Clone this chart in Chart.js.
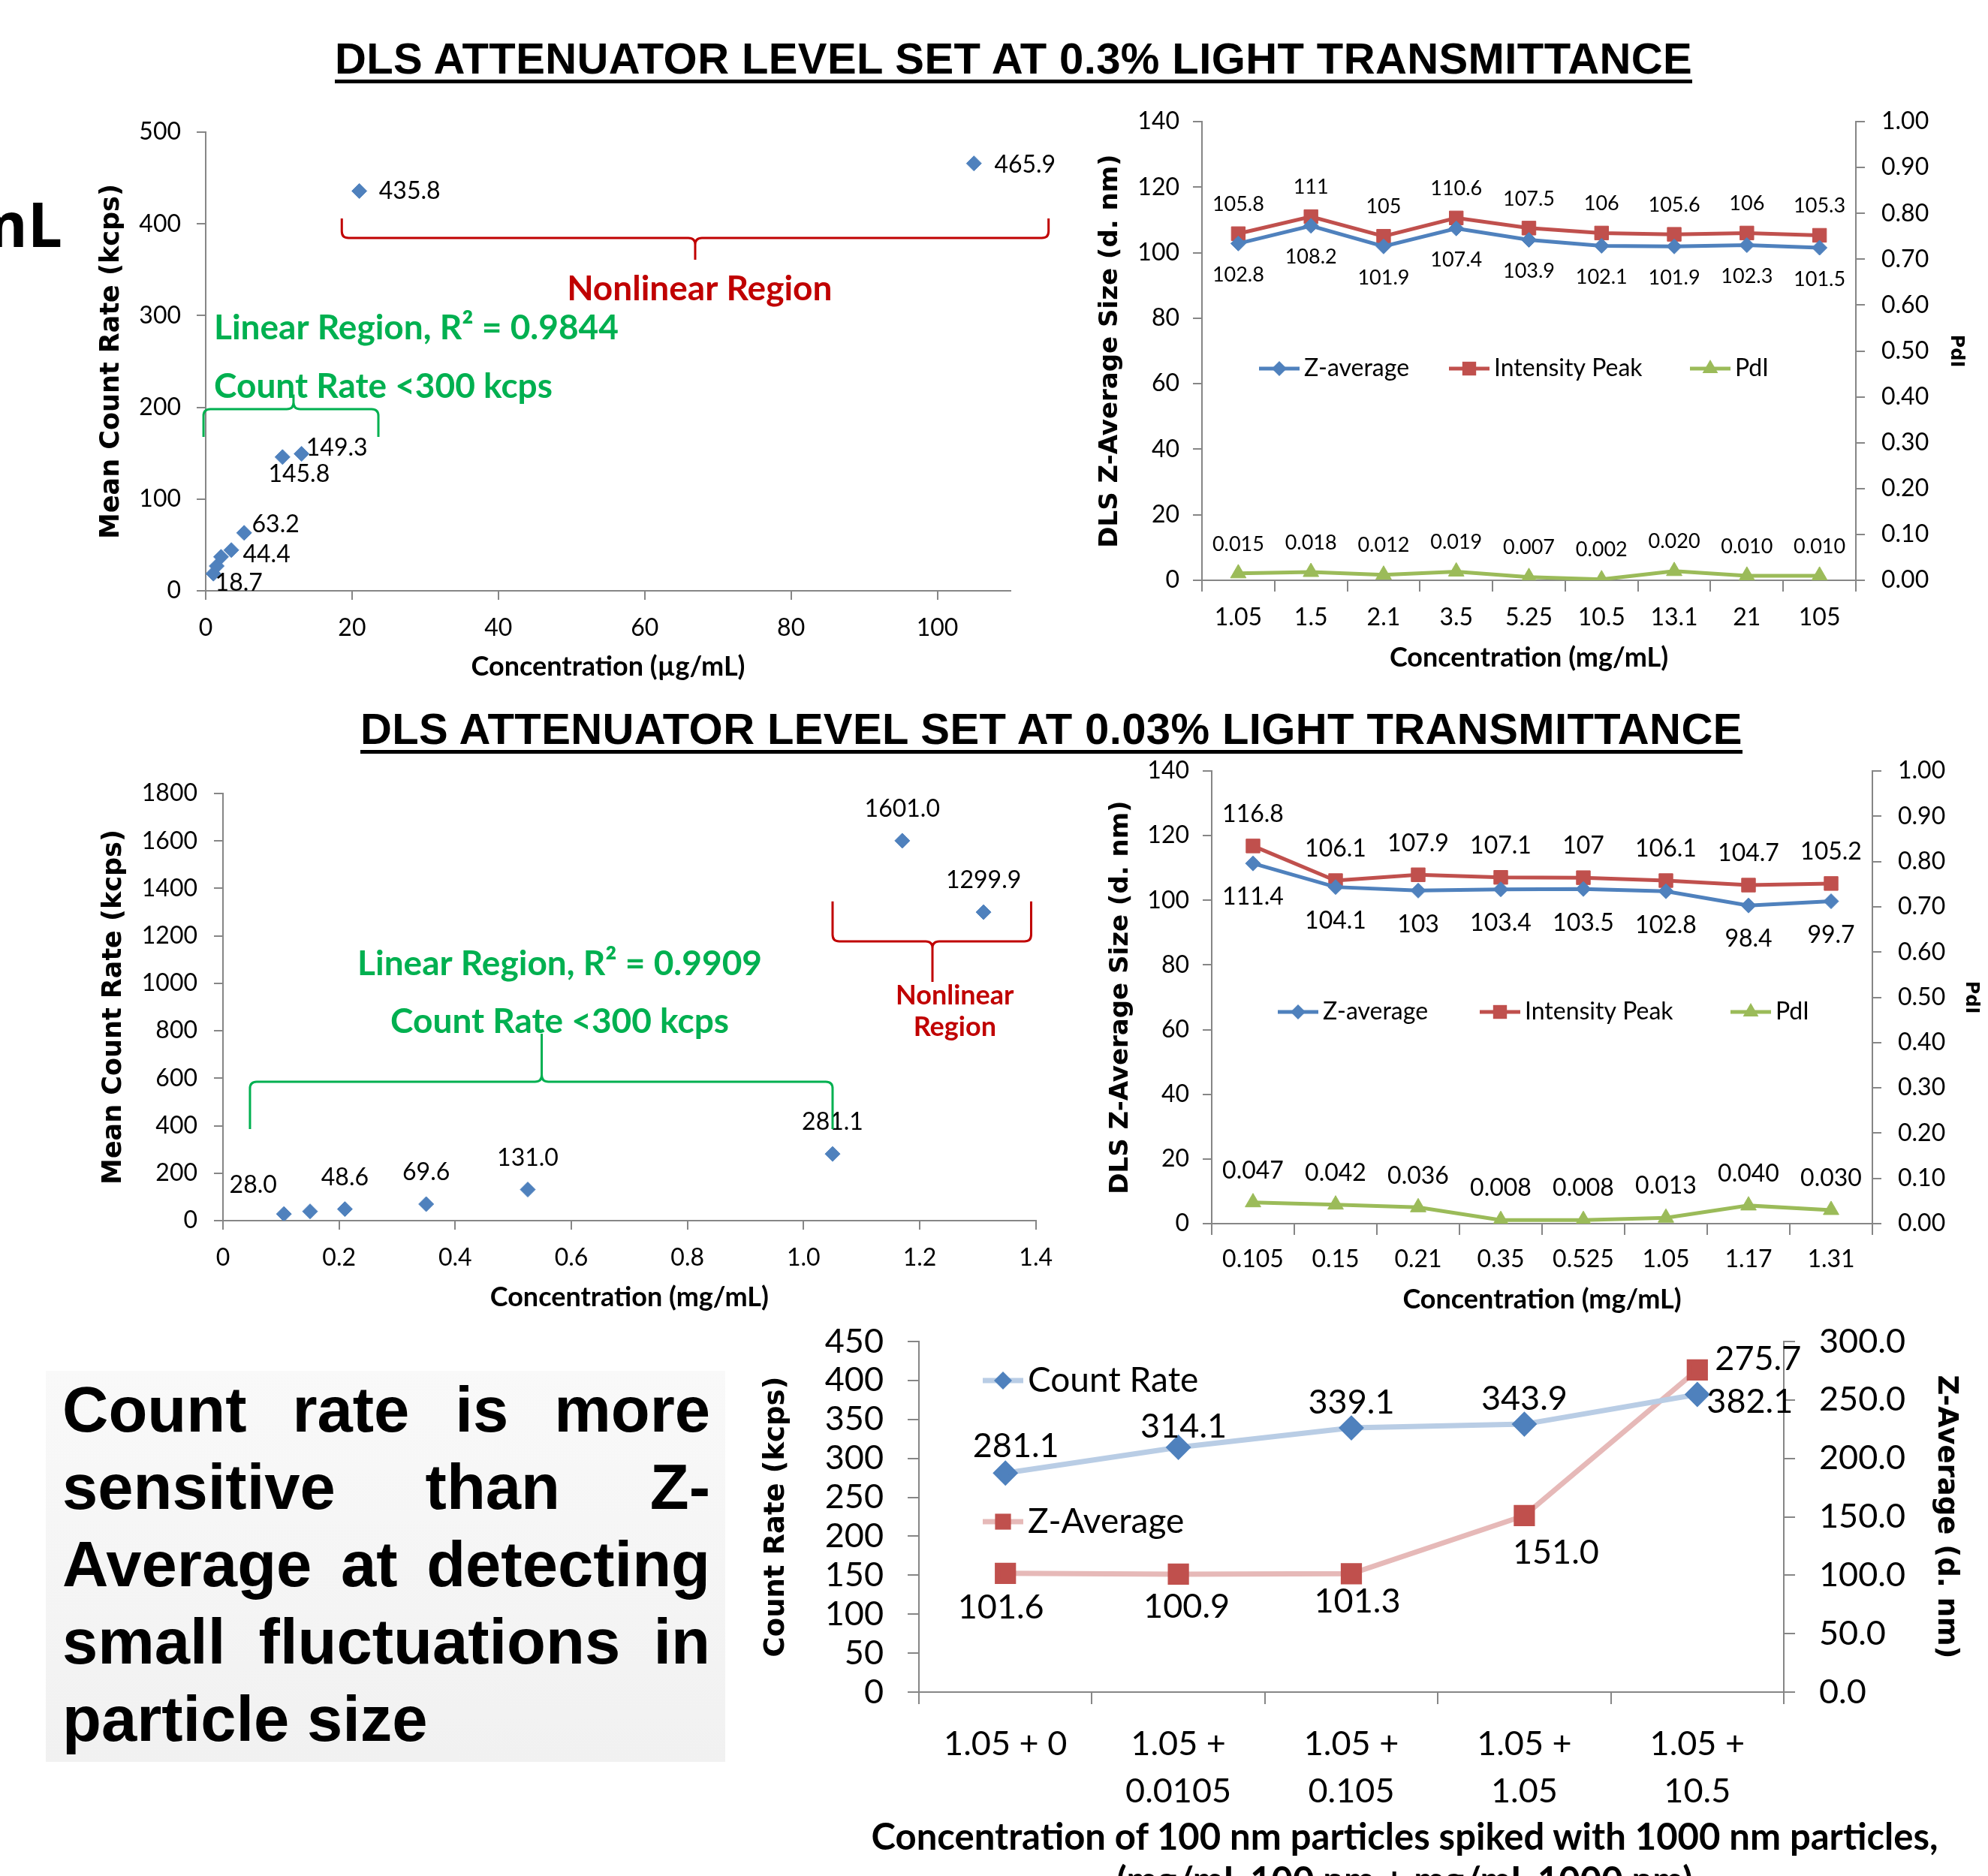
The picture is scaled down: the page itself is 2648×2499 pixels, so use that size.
<!DOCTYPE html>
<html lang="en">
<head>
<meta charset="utf-8">
<title>DLS attenuator level and count rate</title>
<script src="https://cdn.jsdelivr.net/npm/chart.js@4.4.1/dist/chart.umd.min.js"></script>
<style>
  html, body { margin: 0; padding: 0; background: #fff; }
  body { position: relative; width: 2648px; height: 2499px; overflow: hidden; color: #000; }
  canvas { position: absolute; }
  .head { position: absolute; font: bold 58px 'Liberation Sans', Arial, sans-serif; letter-spacing: 0.4px; line-height: 57px; white-space: nowrap; border-bottom: 5px solid #000; }
  #cut { position: absolute; left: -300px; top: 256px; width: 383px; text-align: right; font: bold 82px 'Open Sans', sans-serif; line-height: 82px; white-space: nowrap; }
  #note { position: absolute; left: 61px; top: 1826px; width: 905px; height: 521px; box-sizing: border-box; padding: 0 20px 0 22px;
          background: linear-gradient(#f9f9f9, #f1f1f1); font: bold 85px 'Liberation Sans', Arial, sans-serif; line-height: 103px; }
  #note div { text-align: justify; text-align-last: justify; }
  #note div.last { text-align-last: left; }
  #spikeTitle { position: absolute; left: 871px; top: 2416px; width: 2000px; text-align: center; font: bold 49px Lato, sans-serif; line-height: 58px; white-space: nowrap; }
</style>
</head>
<body>
<div class="head" style="left:446px;top:49px">DLS ATTENUATOR LEVEL SET AT 0.3% LIGHT TRANSMITTANCE</div>
<div class="head" style="left:480px;top:942px">DLS ATTENUATOR LEVEL SET AT 0.03% LIGHT TRANSMITTANCE</div>
<div id="cut">mL</div>

<canvas id="countTop" width="1302" height="770" style="left:128px;top:140px"></canvas>
<canvas id="sizeTop" width="1161" height="768" style="left:1459px;top:130px"></canvas>
<canvas id="countMid" width="1289" height="735" style="left:131px;top:1015px"></canvas>
<canvas id="sizeMid" width="1167" height="753" style="left:1473px;top:1000px"></canvas>
<canvas id="spike" width="1602" height="749" style="left:1012px;top:1750px"></canvas>

<div id="note">
  <div>Count rate is more</div>
  <div>sensitive than Z-</div>
  <div>Average at detecting</div>
  <div>small fluctuations in</div>
  <div class="last">particle size</div>
</div>
<div id="spikeTitle">Concentration of 100 nm particles spiked with 1000 nm particles,<br>(mg/mL 100 nm + mg/mL 1000 nm)</div>

<script>
// attenuator at 0.3% transmittance
const concTop = [1.05, 1.5, 2.1, 3.5, 5.25, 10.5, 13.1, 21, 105];
const countTop = [18.7, 27, 37, 44.4, 63.2, 145.8, 149.3, 435.8, 465.9];
const zAvgTop = [102.8, 108.2, 101.9, 107.4, 103.9, 102.1, 101.9, 102.3, 101.5];
const peakTop = [105.8, 111, 105, 110.6, 107.5, 106, 105.6, 106, 105.3];
const pdiTop = [0.015, 0.018, 0.012, 0.019, 0.007, 0.002, 0.020, 0.010, 0.010];

// attenuator at 0.03% transmittance
const concMid = [0.105, 0.15, 0.21, 0.35, 0.525, 1.05, 1.17, 1.31];
const countMid = [28.0, 39, 48.6, 69.6, 131.0, 281.1, 1601.0, 1299.9];
const zAvgMid = [111.4, 104.1, 103, 103.4, 103.5, 102.8, 98.4, 99.7];
const peakMid = [116.8, 106.1, 107.9, 107.1, 107, 106.1, 104.7, 105.2];
const pdiMid = [0.047, 0.042, 0.036, 0.008, 0.008, 0.013, 0.040, 0.030];

// 100 nm particles spiked with 1000 nm particles
const spikeLabels = ['1.05 + 0', ['1.05 +', '0.0105'], ['1.05 +', '0.105'], ['1.05 +', '1.05'], ['1.05 +', '10.5']];
const spikeCount = [281.1, 314.1, 339.1, 343.9, 382.1];
const spikeZAvg = [101.6, 100.9, 101.3, 151.0, 275.7];

const BLUE = '#4F81BD', RED = '#C0504D', OLIVE = '#9BBB59';
const NOTE_RED = '#C00000', NOTE_GREEN = '#00B050';
const AXIS = '#868686';

Chart.defaults.font.family = 'Lato';
Chart.defaults.color = '#000';

const grid = (tickLength, offset = false) => ({ drawOnChartArea: false, color: AXIS, lineWidth: 2, tickLength, offset });
const border = { color: AXIS, width: 2 };
const yTitle = (text, size) => ({ display: true, text, padding: 0, font: { family: 'DejaVu Sans', weight: 'bold', size } });
const xTitle = text => ({ display: true, text, padding: 0, font: { family: 'Lato', weight: 'bold', size: 36 } });
// fixed axis width; the top label must not push the plot area down
const fixWidth = w => s => { s.width = w; s.paddingTop = 0; s.paddingBottom = 0; };

function marker(ctx, style, r, x, y) {
  ctx.beginPath();
  if (style === 'rectRot') {
    ctx.moveTo(x, y - r); ctx.lineTo(x + r, y); ctx.lineTo(x, y + r); ctx.lineTo(x - r, y);
  } else if (style === 'rect') {
    const s = r * Math.SQRT1_2;
    ctx.rect(x - s, y - s, 2 * s, 2 * s);
  } else {
    ctx.moveTo(x, y - r); ctx.lineTo(x + r * 0.866, y + r / 2); ctx.lineTo(x - r * 0.866, y + r / 2);
  }
  ctx.closePath();
  ctx.fill();
}

// value labels next to the points
const pointLabels = {
  id: 'pointLabels',
  afterDatasetsDraw(chart) {
    const ctx = chart.ctx;
    chart.data.datasets.forEach((ds, i) => {
      const lab = ds.pointLabels;
      if (!lab) return;
      chart.getDatasetMeta(i).data.forEach((el, j) => {
        if (lab.skip && lab.skip.includes(j)) return;
        const raw = ds.data[j];
        const v = typeof raw === 'object' ? raw.y : raw;
        const [dx, dy] = (lab.at && lab.at[j]) || lab.offset;
        ctx.save();
        ctx.font = lab.font;
        ctx.fillStyle = '#000';
        ctx.textAlign = 'center';
        ctx.textBaseline = 'middle';
        ctx.fillText(lab.format(v), el.x + dx, el.y + dy);
        ctx.restore();
      });
    });
  }
};

// curly brackets and region notes, placed in data units
function notes(braces, texts) {
  return {
    id: 'notes',
    afterDatasetsDraw(chart) {
      const { ctx, scales: { x, y } } = chart;
      braces.forEach(b => {
        const x1 = x.getPixelForValue(b.x1), x2 = x.getPixelForValue(b.x2), xm = x.getPixelForValue(b.xm);
        const ye = y.getPixelForValue(b.yEnd), yl = y.getPixelForValue(b.yLine), yt = y.getPixelForValue(b.yTip);
        const r = 9, se = Math.sign(ye - yl), st = Math.sign(yt - yl);
        ctx.save();
        ctx.strokeStyle = b.color;
        ctx.lineWidth = 3;
        ctx.beginPath();
        ctx.moveTo(x1, ye);
        ctx.lineTo(x1, yl + se * r);
        ctx.quadraticCurveTo(x1, yl, x1 + r, yl);
        ctx.lineTo(xm - r, yl);
        ctx.quadraticCurveTo(xm, yl, xm, yl + st * r);
        ctx.lineTo(xm, yt);
        ctx.moveTo(xm, yl + st * r);
        ctx.quadraticCurveTo(xm, yl, xm + r, yl);
        ctx.lineTo(x2 - r, yl);
        ctx.quadraticCurveTo(x2, yl, x2, yl + se * r);
        ctx.lineTo(x2, ye);
        ctx.stroke();
        ctx.restore();
      });
      texts.forEach(t => {
        ctx.save();
        ctx.font = `bold ${t.size}px Lato`;
        ctx.fillStyle = t.color;
        ctx.textAlign = t.align || 'center';
        ctx.textBaseline = 'middle';
        ctx.fillText(t.text, x.getPixelForValue(t.x), y.getPixelForValue(t.y));
        ctx.restore();
      });
    }
  };
}

// legend drawn inside the plot, offsets from the chart area corner
function legendAt(items, font, lineLength) {
  return {
    id: 'legendAt',
    afterDraw(chart) {
      const { ctx, chartArea } = chart;
      items.forEach((it, i) => {
        const ds = chart.data.datasets[i];
        const x0 = chartArea.left + it.dx, y0 = chartArea.top + it.dy;
        ctx.save();
        ctx.strokeStyle = ds.borderColor;
        ctx.lineWidth = ds.borderWidth;
        ctx.beginPath();
        ctx.moveTo(x0, y0);
        ctx.lineTo(x0 + lineLength, y0);
        ctx.stroke();
        ctx.fillStyle = ds.pointBackgroundColor;
        marker(ctx, ds.pointStyle, ds.pointRadius, x0 + lineLength / 2, y0);
        ctx.font = font;
        ctx.fillStyle = '#000';
        ctx.textAlign = 'left';
        ctx.textBaseline = 'middle';
        ctx.fillText(ds.label, x0 + lineLength + 6, y0);
        ctx.restore();
      });
    }
  };
}

function countChart(id, xs, ys, o) {
  return new Chart(document.getElementById(id), {
    type: 'scatter',
    data: {
      datasets: [{
        data: xs.map((x, i) => ({ x, y: ys[i] })),
        pointStyle: 'rectRot', pointRadius: 10, pointHoverRadius: 10,
        backgroundColor: BLUE, borderColor: BLUE,
        pointLabels: o.labels
      }]
    },
    options: {
      responsive: false, animation: false, events: [],
      layout: { padding: { top: o.padTop, right: o.padRight } },
      plugins: { legend: { display: false }, tooltip: { enabled: false } },
      scales: {
        x: {
          type: 'linear', min: o.x[0], max: o.x[1],
          ticks: { stepSize: o.x[2], includeBounds: false, autoSkip: false, padding: 18, font: { size: 32 } },
          grid: grid(12), border, title: xTitle(o.xTitle),
          afterFit: s => { s.height = o.xH; }
        },
        y: {
          min: 0, max: o.y[0],
          ticks: { stepSize: o.y[1], autoSkip: false, padding: o.yPad, font: { size: 32 }, callback: v => String(v) },
          grid: grid(12), border, title: yTitle('Mean Count Rate (kcps)', 35),
          afterFit: fixWidth(o.yW)
        }
      }
    },
    plugins: [pointLabels, notes(o.braces, o.texts)]
  });
}

function sizeChart(id, cats, z, peak, pdi, o) {
  const line = (label, data, color, style, radius, axis, lab) => ({
    label, data, yAxisID: axis, borderColor: color, backgroundColor: color, borderWidth: 5,
    pointStyle: style, pointRadius: radius, pointHoverRadius: radius,
    pointBackgroundColor: color, pointBorderColor: color, pointBorderWidth: 1, tension: 0,
    pointLabels: lab
  });
  return new Chart(document.getElementById(id), {
    type: 'line',
    data: {
      labels: cats.map(String),
      datasets: [
        line('Z-average', z, BLUE, 'rectRot', 10, 'y', { font: o.labelFont, format: String, offset: [0, o.below] }),
        line('Intensity Peak', peak, RED, 'rect', 13, 'y', { font: o.labelFont, format: String, offset: [0, -o.above] }),
        line('PdI', pdi, OLIVE, 'triangle', 12, 'y1', { font: o.labelFont, format: v => v.toFixed(3), offset: [0, -o.above] })
      ]
    },
    options: {
      responsive: false, animation: false, events: [],
      layout: { padding: { top: o.padTop } },
      plugins: { legend: { display: false }, tooltip: { enabled: false } },
      scales: {
        x: {
          type: 'category', offset: true,
          ticks: { padding: o.xPad, autoSkip: false, font: { size: 32 } },
          grid: grid(15, true), border, title: xTitle('Concentration (mg/mL)'),
          afterFit: s => { s.height = o.xH; }
        },
        y: {
          min: 0, max: 140,
          ticks: { stepSize: 20, autoSkip: false, padding: 18, font: { size: 32 } },
          grid: grid(12), border, title: yTitle('DLS Z-Average Size (d. nm)', 34),
          afterFit: fixWidth(o.yW)
        },
        y1: {
          position: 'right', min: 0, max: 1,
          ticks: { stepSize: 0.1, autoSkip: false, padding: 22, font: { size: 32 }, callback: v => v.toFixed(2) },
          grid: grid(12), border, title: yTitle('PdI', 24),
          afterFit: fixWidth(o.y1W)
        }
      }
    },
    plugins: [pointLabels, legendAt(o.legend, '32px Lato', 54)]
  });
}

countChart('countTop', concTop, countTop, {
  x: [0, 110, 20], y: [500, 100], xTitle: 'Concentration (µg/mL)',
  padTop: 36, padRight: 84, xH: 123, yW: 146, yPad: 21,
  labels: {
    font: '32px Lato', format: v => v.toFixed(1), skip: [1, 2], offset: [0, 0],
    at: { 0: [34, 13], 3: [47, 6], 4: [42, -11], 5: [22, 23], 6: [47, -8], 7: [67, 0], 8: [68, 2] }
  },
  braces: [
    { x1: 18.6, x2: 115.2, xm: 66.9, yEnd: 405.9, yLine: 384.6, yTip: 360.9, color: NOTE_RED },
    { x1: -0.3, x2: 23.6, xm: 12.0, yEnd: 167.8, yLine: 198, yTip: 214, color: NOTE_GREEN }
  ],
  texts: [
    { text: 'Nonlinear Region', x: 67.5, y: 329, size: 46, color: NOTE_RED },
    { text: 'Linear Region, R² = 0.9844', x: 1.13, y: 286.4, size: 46, color: NOTE_GREEN, align: 'left' },
    { text: 'Count Rate <300 kcps', x: 1.13, y: 222.6, size: 46, color: NOTE_GREEN, align: 'left' }
  ]
});

sizeChart('sizeTop', concTop, zAvgTop, peakTop, pdiTop, {
  padTop: 32, xH: 125, yW: 142, y1W: 148, xPad: 15,
  labelFont: '27px Lato', above: 39, below: 42,
  legend: [{ dx: 76, dy: 329 }, { dx: 329, dy: 329 }, { dx: 650, dy: 329 }]
});

countChart('countMid', concMid, countMid, {
  x: [0, 1.4, 0.2], y: [1800, 200], xTitle: 'Concentration (mg/mL)',
  padTop: 42, padRight: 39, xH: 124, yW: 166, yPad: 22,
  labels: { font: '32px Lato', format: v => v.toFixed(1), skip: [1], offset: [0, -42], at: { 0: [-41, -38] } },
  braces: [
    { x1: 0.0465, x2: 1.05, xm: 0.549, yEnd: 386, yLine: 585, yTip: 788, color: NOTE_GREEN },
    { x1: 1.05, x2: 1.392, xm: 1.222, yEnd: 1345, yLine: 1177, yTip: 1006, color: NOTE_RED }
  ],
  texts: [
    { text: 'Linear Region, R² = 0.9909', x: 0.58, y: 1082, size: 46, color: NOTE_GREEN },
    { text: 'Count Rate <300 kcps', x: 0.58, y: 838, size: 46, color: NOTE_GREEN },
    { text: 'Nonlinear', x: 1.2605, y: 949, size: 36, color: NOTE_RED },
    { text: 'Region', x: 1.2605, y: 816, size: 36, color: NOTE_RED }
  ]
});

sizeChart('sizeMid', concMid, zAvgMid, peakMid, pdiMid, {
  padTop: 27, xH: 123, yW: 141, y1W: 146, xPad: 13,
  labelFont: '32px Lato', above: 42, below: 45,
  legend: [{ dx: 88, dy: 321 }, { dx: 357, dy: 321 }, { dx: 691, dy: 321 }]
});

new Chart(document.getElementById('spike'), {
  type: 'line',
  data: {
    labels: spikeLabels,
    datasets: [
      {
        label: 'Count Rate', data: spikeCount, yAxisID: 'y',
        borderColor: 'rgb(185,205,229)', borderWidth: 7, tension: 0,
        pointStyle: 'rectRot', pointRadius: 12, pointHoverRadius: 12,
        pointBackgroundColor: BLUE, pointBorderColor: BLUE,
        pointLabels: { font: '45px Lato', format: v => v.toFixed(1), offset: [0, -34], at: { 0: [14, -36], 1: [7, -28], 4: [70, 10] } }
      },
      {
        label: 'Z-Average', data: spikeZAvg, yAxisID: 'y1',
        borderColor: 'rgb(230,185,184)', borderWidth: 7, tension: 0,
        pointStyle: 'rect', pointRadius: 15, pointHoverRadius: 15,
        pointBackgroundColor: RED, pointBorderColor: RED,
        pointLabels: { font: '45px Lato', format: v => v.toFixed(1), offset: [0, 45], at: { 0: [-6, 46], 1: [11, 44], 2: [8, 37], 3: [42, 50], 4: [81, -14] } }
      }
    ]
  },
  options: {
    responsive: false, animation: false, events: [],
    layout: { padding: { top: 37 } },
    plugins: { legend: { display: false }, tooltip: { enabled: false } },
    scales: {
      x: {
        type: 'category', offset: true,
        ticks: { padding: 22, autoSkip: false, font: { size: 45, lineHeight: 1.4 } },
        grid: grid(16, true), border,
        afterFit: s => { s.height = 245; }
      },
      y: {
        min: 0, max: 450,
        ticks: { stepSize: 50, autoSkip: false, padding: 32, font: { size: 45 } },
        grid: grid(15), border, title: yTitle('Count Rate (kcps)', 37),
        afterFit: fixWidth(212)
      },
      y1: {
        position: 'right', min: 0, max: 300,
        ticks: { stepSize: 50, autoSkip: false, padding: 32, font: { size: 45 }, callback: v => v.toFixed(1) },
        grid: grid(15), border, title: yTitle('Z-Average (d. nm)', 37),
        afterFit: fixWidth(238)
      }
    }
  },
  plugins: [pointLabels, legendAt([{ dx: 85, dy: 52 }, { dx: 85, dy: 240 }], '46px Lato', 54)]
});
</script>
</body>
</html>
